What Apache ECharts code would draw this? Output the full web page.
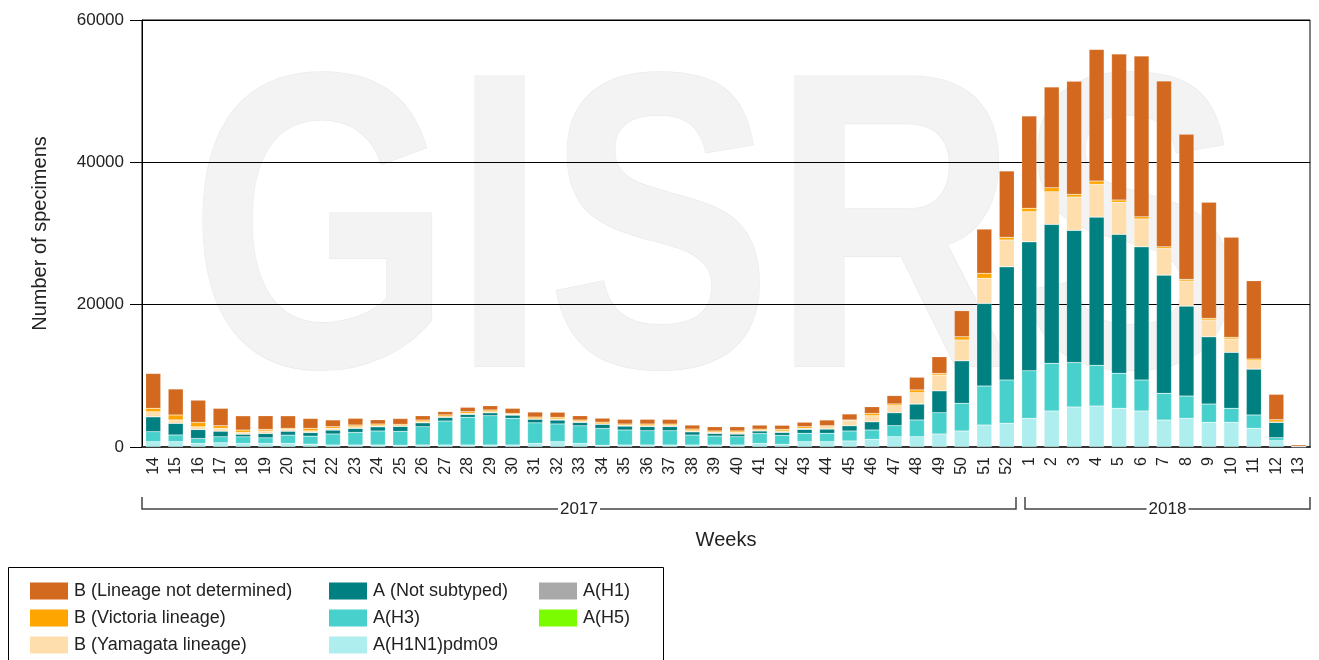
<!DOCTYPE html>
<html>
<head>
<meta charset="utf-8">
<script src="https://cdn.jsdelivr.net/npm/echarts@6/dist/echarts.min.js"></script>
<style>
    html, body { margin: 0; padding: 0; background: #fff; }
    #chart { width: 1319px; height: 660px; }
</style>
</head>
<body>
<div id="chart"></div>
<script>
    // weeks 14-52 of 2017, then 1-13 of 2018
    var weeks = ['14', '15', '16', '17', '18', '19', '20', '21', '22', '23', '24', '25', '26', '27', '28', '29', '30',
        '31', '32', '33', '34', '35', '36', '37', '38', '39', '40', '41', '42', '43', '44', '45', '46', '47', '48',
        '49', '50', '51', '52', '1', '2', '3', '4', '5', '6', '7', '8', '9', '10', '11', '12', '13'];
    var years = ['2017', '2018'];
    var yearFirstWeek = ['14', '1'];
    var yearLastWeek = ['52', '13'];

    var aH1N1pdm09 = [750, 750, 500, 600, 500, 500, 500, 400, 280, 280, 280, 250, 280, 280, 280, 280, 280,
        500, 750, 500, 250, 280, 280, 280, 280, 280, 280, 500, 380, 750, 750, 850, 1080, 1450, 1450,
        1830, 2250, 3090, 3330, 4030, 5060, 5620, 5760, 5440, 5060, 3790, 4030, 3470, 3470, 2630, 890, 20];
    var aH3 = [1400, 940, 700, 840, 930, 790, 1170, 1120, 1550, 1780, 1970, 1950, 2570, 3370, 3890, 4120, 3750,
        2900, 2490, 2480, 2350, 2110, 2010, 2010, 1400, 1260, 1170, 1400, 1260, 1180, 1180, 1400, 1310, 1550, 2350,
        2990, 3890, 5480, 6090, 6690, 6700, 6240, 5720, 4920, 4360, 3750, 3130, 2570, 1970, 1870, 420, 10];
    var aNotSubtyped = [2100, 1640, 1260, 800, 380, 620, 560, 520, 560, 560, 600, 700, 560, 520, 420, 420, 460,
        520, 560, 480, 600, 560, 600, 600, 460, 380, 380, 370, 420, 560, 600, 750, 1170, 1830, 2250,
        3090, 5990, 11620, 15920, 18130, 19530, 18590, 20840, 19530, 18730, 16620, 12650, 9460, 7870, 6460, 2160, 60];
    var aH1 = weeks.map(function () { return 0; });
    var aH5 = weeks.map(function () { return 0; });
    var bYamagata = [700, 470, 380, 380, 240, 340, 240, 230, 240, 230, 140, 100, 140, 100, 140, 140, 100,
        50, 140, 140, 50, 100, 100, 140, 140, 140, 230, 50, 190, 140, 320, 700, 840, 980, 1590,
        2200, 2910, 3510, 3750, 4220, 4580, 4680, 4590, 4500, 3890, 3750, 3510, 2350, 1870, 1170, 50, 10];
    var bVictoria = [480, 700, 610, 370, 330, 230, 140, 340, 230, 240, 240, 200, 240, 240, 230, 240, 140,
        240, 240, 190, 240, 180, 240, 190, 240, 190, 190, 190, 240, 230, 140, 100, 330, 240, 380,
        240, 460, 700, 380, 480, 560, 380, 460, 320, 320, 230, 240, 240, 240, 240, 320, 20];
    var bNotDetermined = [4900, 3650, 3130, 2440, 2000, 1910, 1770, 1400, 940, 940, 600, 800, 600, 460, 620, 600, 700,
        700, 700, 600, 560, 660, 660, 660, 560, 600, 600, 560, 560, 620, 800, 840, 930, 1170, 1780,
        2330, 3650, 6220, 9320, 12970, 14150, 15880, 18500, 20510, 22580, 23280, 20370, 16300, 14050, 11000, 3560, 200];

    var FONT = 'Liberation Sans';
    var TEXT = '#222';

    function makeSeries(name, data, color) {
        return {
            name: name,
            type: 'bar',
            stack: 'total',
            barWidth: 15,
            data: data,
            itemStyle: { color: color, borderColor: 'rgba(255,255,255,0.35)', borderWidth: 0.5 },
            emphasis: { disabled: true }
        };
    }

    function makeLegend(names, left) {
        return {
            orient: 'vertical',
            left: left,
            top: 577,
            itemWidth: 38,
            itemHeight: 17,
            itemGap: 9,
            icon: 'rect',
            selectedMode: false,
            data: names,
            itemStyle: { borderWidth: 0 },
            textStyle: { fontFamily: FONT, fontSize: 18, color: TEXT, padding: [0, 0, 0, 1] }
        };
    }

    var chart = echarts.init(document.getElementById('chart'), null, { renderer: 'canvas' });

    var option = {
        animation: false,
        backgroundColor: '#fff',
        textStyle: { fontFamily: FONT },
        grid: { left: 142, right: 9, top: 20, bottom: 213, show: true, borderColor: '#000', borderWidth: 1 },
        legend: [
            makeLegend(['B (Lineage not determined)', 'B (Victoria lineage)', 'B (Yamagata lineage)'], 25),
            makeLegend(['A (Not subtyped)', 'A(H3)', 'A(H1N1)pdm09'], 324),
            makeLegend(['A(H1)', 'A(H5)'], 534)
        ],
        xAxis: {
            type: 'category',
            data: weeks,
            name: 'Weeks',
            nameLocation: 'middle',
            nameGap: 83,
            nameTextStyle: { fontFamily: FONT, fontSize: 20, color: TEXT },
            axisLine: { lineStyle: { color: '#333', width: 2 } },
            axisTick: { alignWithLabel: true, length: 8, lineStyle: { color: '#333', width: 1.5 } },
            axisLabel: { rotate: 90, interval: 0, fontSize: 16, margin: 10, color: TEXT, fontFamily: FONT }
        },
        yAxis: {
            type: 'value',
            min: 0,
            max: 60000,
            interval: 20000,
            name: 'Number of specimens',
            nameLocation: 'middle',
            nameGap: 92,
            nameTextStyle: { fontFamily: FONT, fontSize: 20, color: TEXT },
            axisLine: { show: true, lineStyle: { color: '#000', width: 1 } },
            axisTick: { show: true, length: 12, lineStyle: { color: '#000' } },
            axisLabel: {
                fontSize: 17, margin: 18, color: TEXT, fontFamily: FONT,
                formatter: function (v) { return String(v); }
            },
            splitLine: { show: true, lineStyle: { color: '#000', width: 1 } }
        },
        series: [
            makeSeries('A(H1N1)pdm09', aH1N1pdm09, '#AFEEEE'),
            makeSeries('A(H3)', aH3, '#48D1CC'),
            makeSeries('A (Not subtyped)', aNotSubtyped, '#008080'),
            makeSeries('A(H1)', aH1, '#A9A9A9'),
            makeSeries('A(H5)', aH5, '#7CFC00'),
            makeSeries('B (Yamagata lineage)', bYamagata, '#FFDEAD'),
            makeSeries('B (Victoria lineage)', bVictoria, '#FFA500'),
            makeSeries('B (Lineage not determined)', bNotDetermined, '#D2691E')
        ]
    };
    chart.setOption(option);

    // decorations: watermark, year brackets, legend frame
    var graphics = [];
    graphics.push({
        type: 'text',
        x: 716,
        y: 250,
        scaleX: 0.82,
        scaleY: 1.02,
        z: -10,
        silent: true,
        style: {
            text: 'GISRS',
            x: 0,
            y: 0,
            align: 'center',
            verticalAlign: 'middle',
            font: 'bold 413px "Liberation Sans"',
            fill: '#f3f3f3',
            stroke: '#ebebeb',
            lineWidth: 1.5
        }
    });

    var c0 = chart.convertToPixel({ xAxisIndex: 0 }, 0);
    var c1 = chart.convertToPixel({ xAxisIndex: 0 }, 1);
    var band = c1 - c0;
    var bracketTop = 497;
    var bracketY = 509;
    years.forEach(function (year, i) {
        var a = weeks.indexOf(yearFirstWeek[i]);
        var b = weeks.indexOf(yearLastWeek[i]);
        var x1 = chart.convertToPixel({ xAxisIndex: 0 }, a) - band / 2 + (i > 0 ? 7 : 0);
        var x2 = chart.convertToPixel({ xAxisIndex: 0 }, b) + band / 2 - (i < years.length - 1 ? 2 : 0);
        var mid = (x1 + x2) / 2;
        var half = 21;
        var lineStyle = { stroke: '#444', lineWidth: 1.5, fill: null };
        graphics.push({
            type: 'polyline', silent: true,
            shape: { points: [[x1, bracketTop], [x1, bracketY], [mid - half, bracketY]] },
            style: lineStyle
        });
        graphics.push({
            type: 'polyline', silent: true,
            shape: { points: [[mid + half, bracketY], [x2, bracketY], [x2, bracketTop]] },
            style: lineStyle
        });
        graphics.push({
            type: 'text', silent: true,
            x: mid, y: bracketY,
            style: { text: year, x: 0, y: 0, align: 'center', verticalAlign: 'middle', font: '17px "Liberation Sans"', fill: TEXT }
        });
    });

    graphics.push({
        type: 'rect', silent: true,
        shape: { x: 8.5, y: 567.5, width: 655, height: 120 },
        style: { fill: null, stroke: '#000', lineWidth: 1 }
    });

    chart.setOption({ graphic: graphics });
</script>
</body>
</html>
